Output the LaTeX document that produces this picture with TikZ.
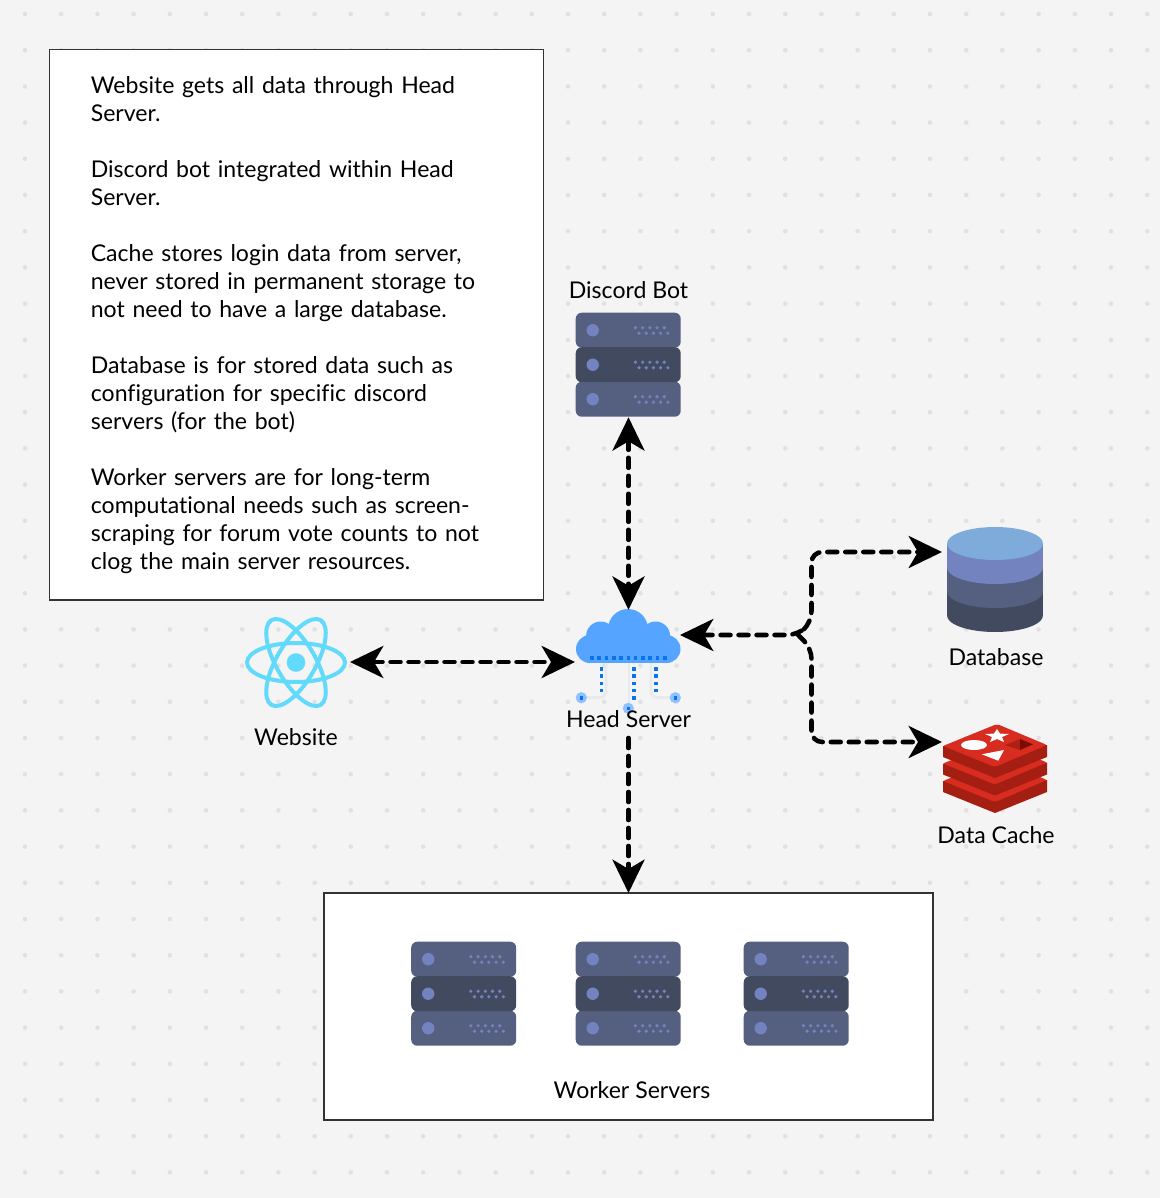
\documentclass[tikz,border=0pt]{standalone}
\usepackage{fontspec}
\setmainfont{Lato}[Ligatures=NoCommon]
\usetikzlibrary{arrows.meta}
\definecolor{paper}{HTML}{F4F4F4}
\definecolor{griddot}{HTML}{E1E1E1}
\definecolor{rackblue}{HTML}{556080}
\definecolor{rackdark}{HTML}{424A60}
\definecolor{racklight}{HTML}{7383BF}
\definecolor{dbtop}{HTML}{7FABDA}
\definecolor{cloudblue}{HTML}{55A4FF}
\definecolor{cloudbit}{HTML}{0A74EF}
\definecolor{cloudring}{HTML}{8FC1FF}
\definecolor{cloudleg}{HTML}{E8EBED}
\definecolor{atomblue}{HTML}{61DAFB}
\definecolor{redisred}{HTML}{D82C20}
\definecolor{redisdark}{HTML}{A41E11}
\definecolor{redismid}{HTML}{AD2115}
\definecolor{redisdeep}{HTML}{7A0C00}
\def\rackslab#1#2{%
	\fill[#2, rounded corners=4.5pt] (0, #1) rectangle (105, #1+35);
	\fill[racklight] (17, #1+17.5) circle (6.2);
	\foreach \k in {0,...,4} {
		\fill[racklight] ({59.7+7.2*\k}, #1+15) circle (1.8);
		\fill[racklight] ({63.3+7.2*\k}, #1+20.5) circle (1.8);
	}
}
\def\serverstack#1{%
	\begin{scope}[shift={(#1.north west)}]
		\rackslab{0}{rackblue}
		\rackslab{69}{rackblue}
		\rackslab{34.5}{rackdark}
	\end{scope}
}
\def\redislayer#1{%
	\fill[redisdark] (943, 746+#1) -- (943, 757+#1) -- (995, 778+#1) -- (1047, 757+#1) -- (1047, 745+#1) -- cycle;
	\fill[redisred, rounded corners=1.5pt] (997, 724+#1) -- (1047, 745+#1) -- (995, 767+#1) -- (943, 746+#1) -- cycle;
}
\tikzset{
	iconbox/.style={minimum width=78.75pt, minimum height=78pt, inner sep=0pt},
	caption/.style={font=\fontsize{17.3}{21}\selectfont, inner sep=0pt},
	whitebox/.style={draw=black!80, fill=white, line width=1.2pt, inner sep=0pt, outer sep=0pt},
	link/.style={line width=3.4pt, line cap=round, dash pattern=on 7.5pt off 6pt, rounded corners=8pt,
		arrows={Stealth[length=25pt, width=24pt, inset=7pt]-Stealth[length=25pt, width=24pt, inset=7pt]}},
	linkto/.style={link, arrows={-Stealth[length=25pt, width=24pt, inset=7pt]}},
}

\begin{document}
\begin{tikzpicture}[x=0.75pt, y=-0.75pt]
		%%%%% BACKGROUND %%%%%
		\fill[paper] (0, 0) rectangle (1160, 1198);
		\useasboundingbox (0, 0) rectangle (1160, 1198);
		\foreach \gx in {0,...,31} {
			\foreach \gy in {0,...,32} {
				\fill[griddot] ({25+36.2*\gx}, {14+36.2*\gy}) circle (2.3);
			}
		}
		
		%%%%% NOTES %%%%%
		\node[whitebox, anchor=north west, minimum width=370.5pt, minimum height=413pt, text width=308.5pt, align=left,
			font=\fontsize{17.3}{21}\selectfont] (notes) at (49.5, 49.5) {%
			\rule{0pt}{1.5pt}Website gets all data through Head\\
			Server.\\
			\mbox{}\\
			Discord bot integrated within Head\\
			Server.\\
			\mbox{}\\
			Cache stores login data from server,\\
			never stored in permanent storage to\\
			not need to have a large database.\\
			\mbox{}\\
			Database is for stored data such as\\
			configuration for specific discord\\
			servers (for the bot)\\
			\mbox{}\\
			Worker servers are for long-term\\
			computational needs such as screen-\\
			scraping for forum vote counts to not\\
			clog the main server resources.};
		
		%%%%% DISCORD BOT %%%%%
		\node[iconbox] (bot) at (628.5, 365) {};
		\serverstack{bot}
		\node[caption] (botlabel) at (628.5, 290) {Discord Bot};
		
		%%%%% WEBSITE %%%%%
		\node[iconbox, minimum width=78pt] (web) at (296, 662.5) {};
		\begin{scope}[shift={(web.center)}]
			\draw[atomblue, line width=3pt] (0, 0) ellipse [x radius=49, y radius=19.5];
			\draw[atomblue, line width=3pt, rotate=60] (0, 0) ellipse [x radius=49, y radius=19.5];
			\draw[atomblue, line width=3pt, rotate=120] (0, 0) ellipse [x radius=49, y radius=19.5];
			\fill[atomblue] (0, 0) circle (9.3);
		\end{scope}
		\node[caption] (weblabel) at (296, 737) {Website};
		
		%%%%% HEAD SERVER %%%%%
		\node[iconbox] (head) at (628.5, 662) {};
		\draw[cloudleg, line width=2.2pt, rounded corners=5pt] (606, 663) -- (606, 697.7) -- (581, 697.7);
		\draw[cloudleg, line width=2.2pt] (629, 663) -- (629, 708);
		\draw[cloudleg, line width=2.2pt, rounded corners=5pt] (651, 663) -- (651, 697.7) -- (676, 697.7);
		\fill[cloudblue] (590, 636) rectangle (666.5, 663);
		\fill[cloudblue] (628, 629) circle (20);
		\fill[cloudblue] (600.6, 636) circle (14.5);
		\fill[cloudblue] (655.6, 636) circle (14.5);
		\fill[cloudblue] (590, 649) circle (14);
		\fill[cloudblue] (666.5, 649) circle (14);
		\foreach \k in {0,...,10} {
			\fill[cloudbit] ({590.2+7.27*\k}, 656.2) rectangle ++(3.6, 3.6);
		}
		\foreach \k in {0,...,3} {
			\fill[cloudbit] (599.5, {666.9+7.33*\k}) rectangle ++(3.6, 3.6);
			\fill[cloudbit] (632.2, {666.9+7.33*\k}) rectangle ++(3.6, 3.6);
			\fill[cloudbit] (653.9, {666.9+7.33*\k}) rectangle ++(3.6, 3.6);
		}
		\fill[cloudbit] (632.2, 696.2) rectangle ++(3.6, 3.6);
		\foreach \rx/\ry in {581.3/697.7, 675.3/697.7, 628.3/708.3} {
			\fill[cloudring] (\rx, \ry) circle (5.6);
			\fill[cloudbit] (\rx-1.8, \ry-1.8) rectangle ++(3.6, 3.6);
		}
		\node[caption] (headlabel) at (628.5, 719.5) {Head Server};
		
		%%%%% DATABASE %%%%%
		\node[iconbox, minimum width=72pt] (db) at (995, 579.5) {};
		\fill[rackdark] (947, 543) rectangle (1043, 615.5);
		\fill[rackdark] (995, 615.5) ellipse [x radius=48, y radius=16.5];
		\fill[rackblue] (947, 543) rectangle (1043, 591.5);
		\fill[rackblue] (995, 591.5) ellipse [x radius=48, y radius=16.5];
		\fill[racklight] (947, 543) rectangle (1043, 567.5);
		\fill[racklight] (995, 567.5) ellipse [x radius=48, y radius=16.5];
		\fill[dbtop] (995, 543.5) ellipse [x radius=48, y radius=16.5];
		\node[caption] (dblabel) at (996, 657) {Database};
		
		%%%%% DATA CACHE %%%%%
		\node[iconbox, minimum height=67.5pt] (cache) at (995, 768) {};
		\redislayer{35}
		\redislayer{17.5}
		\redislayer{0}
		\fill[white] (974, 745) ellipse [x radius=13, y radius=5];
		\fill[white] (997, 729) -- (1000, 733.6) -- (1009, 734) -- (1002, 737) -- (1004, 742) -- (997, 739)
			-- (990, 742) -- (992, 737) -- (985, 734) -- (994, 733.6) -- cycle;
		\fill[white] (981.7, 754.3) -- (1004, 750) -- (998.3, 760.7) -- cycle;
		\fill[redismid] (1005, 745) -- (1020, 739) -- (1020, 750) -- cycle;
		\fill[redisdeep] (1020, 739) -- (1033, 744.3) -- (1020, 750) -- cycle;
		\node[caption] (cachelabel) at (996, 835) {Data Cache};
		
		%%%%% WORKER SERVERS %%%%%
		\node[whitebox, minimum width=456.75pt, minimum height=170.25pt] (workers) at (628.5, 1006.5) {};
		\node[iconbox] (workerone) at (464, 994) {};
		\node[iconbox] (workertwo) at (628.5, 994) {};
		\node[iconbox] (workerthree) at (796.5, 994) {};
		\serverstack{workerone}
		\serverstack{workertwo}
		\serverstack{workerthree}
		\node[caption] (workerlabel) at (632, 1090) {Worker Servers};
		
		%%%%% CONNECTORS %%%%%
		\coordinate (headport) at (680, 635);
		\coordinate (branch) at (798, 635);
		\coordinate (dbport) at (942, 552);
		\coordinate (cacheport) at (942, 742);
		\coordinate (bendup) at (811.5, 552);
		\coordinate (benddown) at (811.5, 742);
		\coordinate (riseup) at (811.5, 622);
		\coordinate (dropdown) at (811.5, 648);
		\coordinate (webport) at (350, 662);
		\coordinate (headwest) at (575, 662);
		\coordinate (headdown) at (628.5, 738);
		\draw[link] (bot.south) -- (head.north);
		\draw[link] (webport) -- (headwest);
		\draw[linkto] (headdown) -- (workers.north);
		\draw[link] (headport) -- (branch) -- (riseup) -- (bendup) -- (dbport);
		\draw[linkto] (branch) -- (dropdown) -- (benddown) -- (cacheport);
		
		%%%%% END %%%%%
	\end{tikzpicture}
\end{document}
